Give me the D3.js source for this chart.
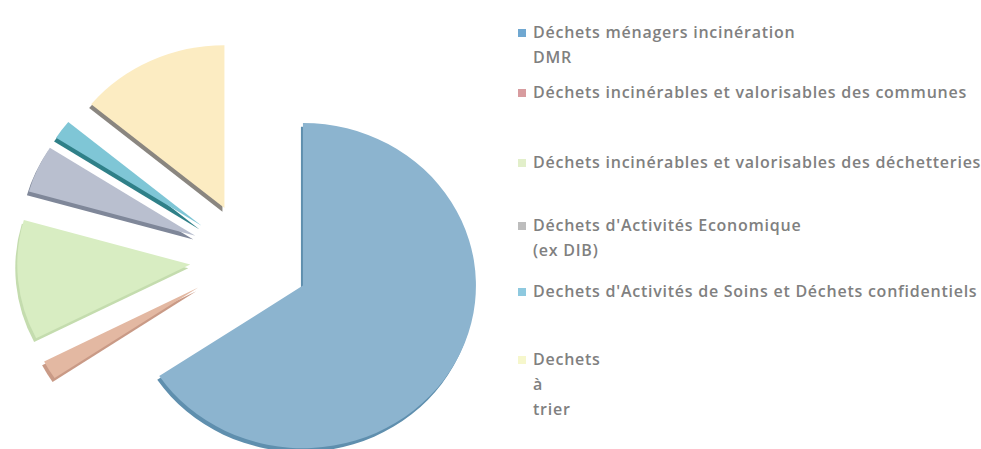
<!DOCTYPE html>
<html><head><meta charset="utf-8">
<script src="https://cdn.jsdelivr.net/npm/d3@7"></script>
<style>html,body{margin:0;padding:0;background:#fff;}svg{display:block;}</style>
</head><body>
<script>
const categories = [
  "Déchets ménagers incinération DMR",
  "Déchets incinérables et valorisables des communes",
  "Déchets incinérables et valorisables des déchetteries",
  "Déchets d'Activités Economique (ex DIB)",
  "Dechets d'Activités de Soins et Déchets confidentiels",
  "Dechets à trier"
];
const legendLines = [
  ["Déchets ménagers incinération", "DMR"],
  ["Déchets incinérables et valorisables des communes"],
  ["Déchets incinérables et valorisables des déchetteries"],
  ["Déchets d'Activités Economique", "(ex DIB)"],
  ["Dechets d'Activités de Soins et Déchets confidentiels"],
  ["Dechets", "à", "trier"]
];
const values = [65.6, 1.9, 11.9, 4.7, 1.9, 14.0];
const sliceColors = ["#8cb4cf", "#e3b8a2", "#d8edc2", "#b9bfcf", "#7fc6d6", "#fcecc2"];
const sideColors  = ["#5f8fae", "#c99a86", "#c4dcae", "#7f8799", "#2f8088", "#8a8680"];
const legendColors = ["#70a8d1", "#d89c9f", "#e2efca", "#bdbdbd", "#8ec9df", "#f6f7cc"];

const W = 981, H = 449;
const svg = d3.select("body").append("svg").attr("width", W).attr("height", H);

const cx = 250, cy = 259, R = 173, explode = 60, tilt = 0.94;
const pie = d3.pie().sort(null).value(d => d).startAngle(0).endAngle(2 * Math.PI);
const arcs = pie(values);
const arc = d3.arc().innerRadius(0).outerRadius(R);

const g = svg.append("g").attr("transform", `translate(${cx},${cy}) scale(1,${tilt})`);
const slices = g.selectAll("g.slice").data(arcs).join("g").attr("class", "slice")
  .attr("transform", d => {
    const m = (d.startAngle + d.endAngle) / 2;
    return `translate(${explode * Math.sin(m)},${-explode * Math.cos(m)})`;
  });
slices.append("path").attr("d", arc).attr("fill", (d, i) => sideColors[i])
  .attr("transform", "translate(-2,4)");
slices.append("path").attr("d", arc).attr("fill", (d, i) => sliceColors[i]);

// Legend
const legendTop = [33, 93, 163, 226, 292, 360];
const lg = svg.append("g");
legendLines.forEach((lines, i) => {
  lg.append("rect").attr("x", 518).attr("y", legendTop[i] - 4).attr("width", 8).attr("height", 8)
    .attr("fill", legendColors[i]);
  lines.forEach((t, j) => {
    lg.append("text").attr("x", 533).attr("y", legendTop[i] + 5 + j * 25)
      .attr("font-family", "'Open Sans', sans-serif").attr("font-weight", 600)
      .attr("font-size", 16).attr("letter-spacing", 0.75).attr("fill", "#808080").text(t);
  });
});
</script>
</body></html>
